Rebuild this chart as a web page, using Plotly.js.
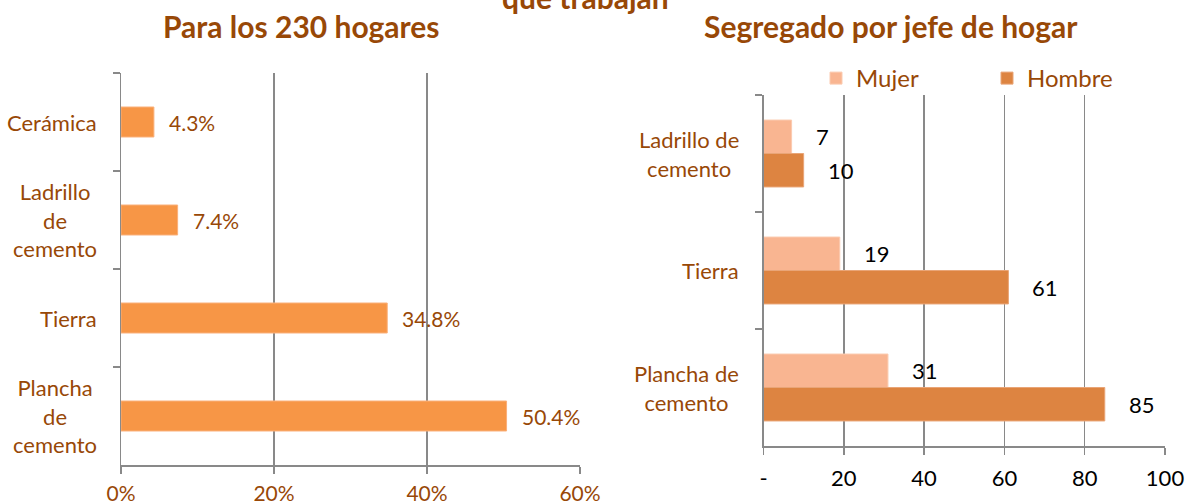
<!DOCTYPE html>
<html>
<head>
<meta charset="utf-8">
<script src="https://cdn.plot.ly/plotly-3.0.1.min.js"></script>
<style>html,body{margin:0;padding:0;background:#fff;}#chart{width:1185px;height:504px;}</style>
</head>
<body>
<div id="chart"></div>
<script>
// ---- data ----
const leftCats = ['Cerámica', 'Ladrillo de cemento', 'Tierra', 'Plancha de cemento'];
const leftLabels = ['Cerámica', 'Ladrillo<br>de<br>cemento', 'Tierra', 'Plancha<br>de<br>cemento'];
const leftValues = [4.3, 7.4, 34.8, 50.4];
const leftTickVals = [0, 20, 40, 60];
const leftTickText = ['0%', '20%', '40%', '60%'];

const rightCats = ['Ladrillo de cemento', 'Tierra', 'Plancha de cemento'];
const rightLabels = ['Ladrillo de<br>cemento', 'Tierra', 'Plancha de<br>cemento'];
const mujerValues = [7, 19, 31];
const hombreValues = [10, 61, 85];
const rightTickVals = [0, 20, 40, 60, 80, 100];
const rightTickText = ['-', '20', '40', '60', '80', '100'];

const titleLeft = 'Para los 230 hogares';
const titleRight = 'Segregado por jefe de hogar';
const titleTop = 'que trabajan';

// ---- style ----
const W = 1185, H = 504;
const BROWN = '#984807';
const GRID = '#898989';
const FONT = 'Lato, "Open Sans", sans-serif';
const leftBarW = 0.306;
const rightBarW = 0.286;

const px = v => v / W;
const py = v => 1 - v / H;

const traces = [
  {
    type: 'bar', orientation: 'h', x: leftValues, y: leftCats,
    xaxis: 'x', yaxis: 'y', width: leftBarW,
    marker: {color: '#F79646', line: {color: '#FAB07A', width: 1}},
    showlegend: false, hoverinfo: 'skip'
  },
  {
    type: 'bar', orientation: 'h', name: 'Mujer', x: mujerValues, y: rightCats,
    xaxis: 'x2', yaxis: 'y2', width: rightBarW, offset: -rightBarW,
    marker: {color: '#F9B591', line: {color: '#FBCBB0', width: 1}},
    hoverinfo: 'skip'
  },
  {
    type: 'bar', orientation: 'h', name: 'Hombre', x: hombreValues, y: rightCats,
    xaxis: 'x2', yaxis: 'y2', width: rightBarW, offset: 0,
    marker: {color: '#DD8441', line: {color: '#E9A577', width: 1}},
    hoverinfo: 'skip'
  }
];

const annotations = [];
// titles
annotations.push({text: '<b>' + titleLeft + '</b>', xref: 'paper', yref: 'paper', x: px(301), y: py(26),
  xanchor: 'center', yanchor: 'middle', showarrow: false, font: {family: FONT, size: 30, color: BROWN}});
annotations.push({text: '<b>' + titleRight + '</b>', xref: 'paper', yref: 'paper', x: px(891), y: py(26),
  xanchor: 'center', yanchor: 'middle', showarrow: false, font: {family: FONT, size: 30, color: BROWN}});
annotations.push({text: '<b>' + titleTop + '</b>', xref: 'paper', yref: 'paper', x: px(585), y: py(-3),
  xanchor: 'center', yanchor: 'middle', showarrow: false, font: {family: FONT, size: 30, color: BROWN}});

// category labels
leftCats.forEach((c, i) => annotations.push({
  text: leftLabels[i], xref: 'paper', yref: 'y', x: px(99), y: c, xanchor: 'right', yanchor: 'middle',
  align: 'center', showarrow: false, font: {family: FONT, size: 22, color: BROWN}
}));
rightCats.forEach((c, i) => annotations.push({
  text: rightLabels[i], xref: 'paper', yref: 'y2', x: px(741), y: c, xanchor: 'right', yanchor: 'middle',
  align: 'center', showarrow: false, font: {family: FONT, size: 22, color: BROWN}
}));

// data labels
leftValues.forEach((v, i) => annotations.push({
  text: v.toFixed(1) + '%', xref: 'x', yref: 'y', x: v, y: i, xanchor: 'left', yanchor: 'middle',
  xshift: 13, showarrow: false, font: {family: FONT, size: 21, color: BROWN}
}));
mujerValues.forEach((v, i) => annotations.push({
  text: String(v), xref: 'x2', yref: 'y2', x: v, y: i - rightBarW / 2, xanchor: 'left', yanchor: 'middle',
  xshift: 22, showarrow: false, font: {family: FONT, size: 22, color: '#000'}
}));
hombreValues.forEach((v, i) => annotations.push({
  text: String(v), xref: 'x2', yref: 'y2', x: v, y: i + rightBarW / 2, xanchor: 'left', yanchor: 'middle',
  xshift: 22, showarrow: false, font: {family: FONT, size: 22, color: '#000'}
}));

const xCommon = {
  showgrid: true, gridcolor: GRID, gridwidth: 1.5,
  showline: true, linecolor: GRID, linewidth: 1.5,
  ticks: 'outside', ticklen: 7, tickcolor: GRID, tickwidth: 1.5,
  zeroline: false, fixedrange: true
};
const yCommon = {
  type: 'category', autorange: 'reversed', showgrid: false, zeroline: false,
  showline: true, linecolor: GRID, linewidth: 1.5,
  ticks: 'outside', ticklen: 7, tickcolor: GRID, tickwidth: 1.5,
  tickson: 'boundaries', showticklabels: false, fixedrange: true
};

const layout = {
  width: W, height: H,
  margin: {l: 0, r: 0, t: 0, b: 0},
  paper_bgcolor: '#fff', plot_bgcolor: '#fff',
  barmode: 'overlay',
  font: {family: FONT, color: BROWN},
  xaxis: Object.assign({}, xCommon, {
    domain: [px(121), px(580)], anchor: 'y', range: [0, 60],
    tickmode: 'array', tickvals: leftTickVals, ticktext: leftTickText,
    tickfont: {family: FONT, size: 21, color: BROWN}, ticklabelstandoff: 2
  }),
  yaxis: Object.assign({}, yCommon, {
    domain: [py(465), py(73)], anchor: 'x', categoryorder: 'array', categoryarray: leftCats
  }),
  xaxis2: Object.assign({}, xCommon, {
    domain: [px(763.5), px(1165)], anchor: 'y2', range: [0, 100],
    tickmode: 'array', tickvals: rightTickVals, ticktext: rightTickText,
    tickfont: {family: FONT, size: 22, color: '#000'}, ticklabelstandoff: 5
  }),
  yaxis2: Object.assign({}, yCommon, {
    domain: [py(446), py(95)], anchor: 'x2', categoryorder: 'array', categoryarray: rightCats
  }),
  showlegend: true,
  legend: {
    orientation: 'h', x: px(816), y: py(78.5), xanchor: 'left', yanchor: 'middle',
    font: {family: FONT, size: 24, color: BROWN}, entrywidth: 126, entrywidthmode: 'pixels',
    bgcolor: 'rgba(0,0,0,0)', traceorder: 'normal'
  },
  annotations: annotations
};

Plotly.newPlot('chart', traces, layout, {staticPlot: true, displayModeBar: false});
</script>
</body>
</html>
